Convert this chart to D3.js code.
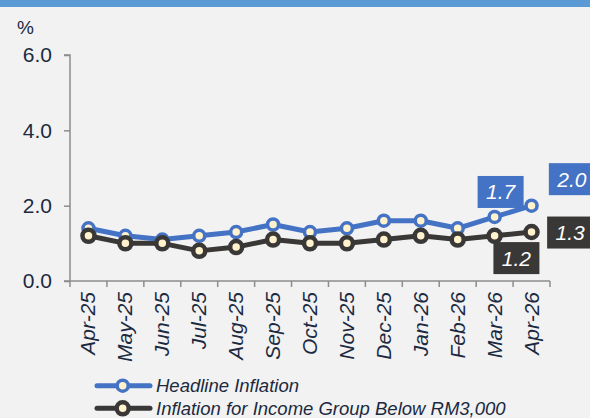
<!DOCTYPE html>
<html><head><meta charset="utf-8">
<script src="https://cdn.jsdelivr.net/npm/d3@7/dist/d3.min.js"></script>
<style>
html,body{margin:0;padding:0;background:#F2F2F2;}
svg{display:block;font-family:"Liberation Sans",Arial,sans-serif;}
</style></head>
<body><svg id="c" width="590" height="418"></svg>
<script>
const months = ["Apr-25","May-25","Jun-25","Jul-25","Aug-25","Sep-25","Oct-25","Nov-25","Dec-25","Jan-26","Feb-26","Mar-26","Apr-26"];
const headline = [1.4,1.2,1.1,1.2,1.3,1.5,1.3,1.4,1.6,1.6,1.4,1.7,2.0];
const lowIncome = [1.2,1.0,1.0,0.8,0.9,1.1,1.0,1.0,1.1,1.2,1.1,1.2,1.3];
const yTicks = [0,2,4,6];
const seriesNames = ["Headline Inflation","Inflation for Income Group Below RM3,000"];

const BLUE = "#4472C4", DARK = "#3A3836", CREAM = "#FFF2CC", TXT = "#1B2A41", AX = "#8C8C8C";
const svg = d3.select("#c");
svg.append("rect").attr("x",0).attr("y",0).attr("width",590).attr("height",418).attr("fill","#F2F2F2");
svg.append("rect").attr("x",0).attr("y",0).attr("width",590).attr("height",7).attr("fill","#5B9BD5");

const x = d3.scaleBand().domain(months).range([70,550]).paddingInner(0).paddingOuter(0);
const y = d3.scaleLinear().domain([0,6]).range([281,55]);
const cx = m => x(m) + x.bandwidth()/2;

// % label
svg.append("text").attr("x",17).attr("y",34).attr("font-size",19).attr("fill",TXT).text("%");

// y axis
const ya = svg.append("g").attr("transform","translate(70,0)")
  .call(d3.axisLeft(y).tickValues(yTicks).tickSize(6).tickPadding(12).tickFormat(d3.format(".1f")));
ya.select(".domain").attr("stroke",AX).attr("stroke-width",1.5).attr("d","M-6,55H0V281");
ya.selectAll(".tick line").attr("stroke",AX).attr("stroke-width",1.5);
ya.selectAll(".tick text").attr("font-size",21).attr("fill",TXT).attr("font-family","Liberation Sans, Arial, sans-serif");

// x axis
const xg = svg.append("g");
xg.append("line").attr("x1",64).attr("x2",550).attr("y1",281).attr("y2",281).attr("stroke",AX).attr("stroke-width",1.5);
const edges = months.map(m=>x(m)).concat([x(months[months.length-1])+x.bandwidth()]);
xg.selectAll(".xt").data(edges).join("line").attr("x1",d=>d).attr("x2",d=>d).attr("y1",281).attr("y2",287)
  .attr("stroke",AX).attr("stroke-width",1.5);
xg.selectAll(".xl").data(months).join("text")
  .attr("transform",d=>`translate(${cx(d)+7},292) rotate(-90)`)
  .attr("text-anchor","end").attr("font-size",21).attr("font-style","italic").attr("fill",TXT).text(d=>d);

// lines
const line = d3.line().x((d,i)=>cx(months[i])).y(d=>y(d));
svg.append("path").datum(lowIncome).attr("d",line).attr("fill","none").attr("stroke",DARK).attr("stroke-width",5).attr("stroke-linejoin","round");
svg.append("path").datum(headline).attr("d",line).attr("fill","none").attr("stroke",BLUE).attr("stroke-width",5).attr("stroke-linejoin","round");
svg.selectAll(".mb").data(headline).join("circle").attr("cx",(d,i)=>cx(months[i])).attr("cy",d=>y(d)).attr("r",5.5)
  .attr("fill",CREAM).attr("stroke",BLUE).attr("stroke-width",3.5);
svg.selectAll(".md").data(lowIncome).join("circle").attr("cx",(d,i)=>cx(months[i])).attr("cy",d=>y(d)).attr("r",6)
  .attr("fill",CREAM).attr("stroke",DARK).attr("stroke-width",4.5);

// data labels
const labels = [
  {i:11, v:headline[11], c:BLUE, dx:6, dy:-25},
  {i:12, v:headline[12], c:BLUE, dx:40.3, dy:-26.5},
  {i:12, v:lowIncome[12], c:DARK, dx:38.6, dy:0.5},
  {i:11, v:lowIncome[11], c:DARK, dx:21.8, dy:22.3}
];
labels.forEach(l=>{
  const px = cx(months[l.i]) + l.dx, py = y(l.v) + l.dy;
  svg.append("rect").attr("x",px-23).attr("y",py-16).attr("width",46).attr("height",32).attr("fill",l.c);
  svg.append("text").attr("x",px).attr("y",py+7.5).attr("text-anchor","middle").attr("font-size",21)
    .attr("font-style","italic").attr("fill","#FFFFFF").text(d3.format(".1f")(l.v));
});

// legend
const lg = svg.append("g");
[[BLUE,385.7,5.5,3.5],[DARK,408.3,6,4.5]].forEach((s,k)=>{
  lg.append("line").attr("x1",97).attr("x2",150).attr("y1",s[1]).attr("y2",s[1]).attr("stroke",s[0]).attr("stroke-width",5).attr("stroke-linecap","round");
  lg.append("circle").attr("cx",122.7).attr("cy",s[1]).attr("r",s[2]).attr("fill",CREAM).attr("stroke",s[0]).attr("stroke-width",s[3]);
  lg.append("text").attr("x",156).attr("y",s[1]+6.5).attr("font-size",18.5).attr("font-style","italic").attr("fill",TXT).text(seriesNames[k]);
});
</script></body></html>
